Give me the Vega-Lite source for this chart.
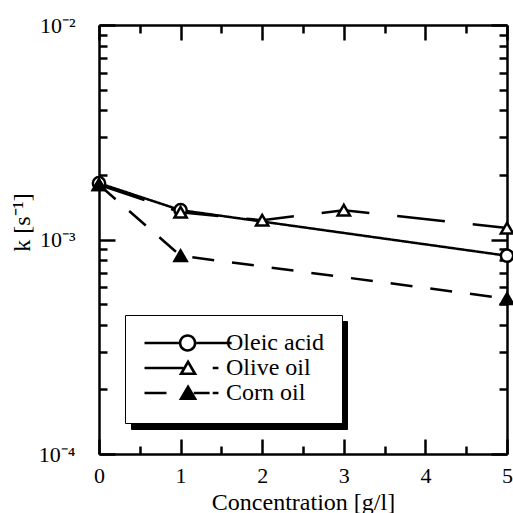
{
  "$schema": "https://vega.github.io/schema/vega-lite/v6.json",
  "width": 408,
  "height": 429,
  "autosize": "none",
  "padding": {"left": 99, "top": 25, "right": 6, "bottom": 59},
  "background": "white",
  "config": {
    "font": "Liberation Serif",
    "view": {"stroke": null},
    "axis": {
      "domainColor": "black", "domainWidth": 2.5, "tickColor": "black", "tickWidth": 2.5,
      "labelFont": "Liberation Serif", "labelFontSize": 22, "labelColor": "black",
      "titleFont": "Liberation Serif", "titleFontSize": 24, "titleFontWeight": "normal", "titleColor": "black",
      "grid": false, "labelFlush": false, "labelOverlap": false
    }
  },
  "data": {"values": [
    {"series": "Oleic acid", "x": 0, "k": 0.00183},
    {"series": "Oleic acid", "x": 1, "k": 0.00137},
    {"series": "Oleic acid", "x": 5, "k": 0.00084},
    {"series": "Olive oil", "x": 0, "k": 0.0018},
    {"series": "Olive oil", "x": 1, "k": 0.00134},
    {"series": "Olive oil", "x": 2, "k": 0.00123},
    {"series": "Olive oil", "x": 3, "k": 0.00137},
    {"series": "Olive oil", "x": 5, "k": 0.00113},
    {"series": "Corn oil", "x": 0, "k": 0.0018},
    {"series": "Corn oil", "x": 1, "k": 0.00084},
    {"series": "Corn oil", "x": 5, "k": 0.00053}
  ]},
  "layer": [
    {
      "mark": {"type": "line", "stroke": "black", "strokeWidth": 2.5},
      "encoding": {
        "x": {"field": "x", "type": "quantitative", "scale": {"domain": [0, 5], "nice": false},
          "axis": {"orient": "bottom", "values": [0, 0.5, 1, 1.5, 2, 2.5, 3, 3.5, 4, 4.5, 5],
            "labelExpr": "datum.value % 1 === 0 ? format(datum.value, 'd') : ''",
            "tickSize": {"condition": {"test": "datum.value % 1 === 0", "value": -15}, "value": -8},
            "labelPadding": 26, "title": "Concentration [g/l]", "titleY": 55, "titleBaseline": "alphabetic"}},
        "y": {"field": "k", "type": "quantitative", "scale": {"type": "log", "domain": [0.0001, 0.01], "nice": false},
          "axis": {"orient": "left",
            "values": [0.0001, 0.0002, 0.0003, 0.0004, 0.0005, 0.0006, 0.0007, 0.0008, 0.0009, 0.001, 0.002, 0.003, 0.004, 0.005, 0.006, 0.007, 0.008, 0.009, 0.01],
            "labelExpr": "datum.value === 0.0001 ? '10⁻⁴' : datum.value === 0.001 ? '10⁻³' : datum.value === 0.01 ? '10⁻²' : ''",
            "tickSize": {"condition": {"test": "datum.value === 0.0001 || datum.value === 0.001 || datum.value === 0.01", "value": -16}, "value": -8},
            "labelPadding": 40, "labelBaseline": "middle",
            "title": "k [s⁻¹]", "titleX": -77, "titleY": 197, "titleAngle": 270, "titleBaseline": "middle", "titleAlign": "center"}},
        "strokeDash": {"field": "series", "type": "nominal",
          "scale": {"domain": ["Corn oil", "Olive oil", "Oleic acid"], "range": [[22, 18], [48, 28], [1, 0]]},
          "legend": null},
        "order": {"field": "x", "type": "quantitative"}
      }
    },
    {
      "mark": {"type": "point", "stroke": "black", "strokeWidth": 2.5, "opacity": 1, "size": 150},
      "encoding": {
        "x": {"field": "x", "type": "quantitative",
          "axis": {"orient": "top", "values": [0, 0.5, 1, 1.5, 2, 2.5, 3, 3.5, 4, 4.5, 5], "labels": false, "title": null,
            "tickSize": {"condition": {"test": "datum.value % 1 === 0", "value": -15}, "value": -8}}},
        "y": {"field": "k", "type": "quantitative",
          "axis": {"orient": "right", "labels": false, "title": null,
            "values": [0.0001, 0.0002, 0.0003, 0.0004, 0.0005, 0.0006, 0.0007, 0.0008, 0.0009, 0.001, 0.002, 0.003, 0.004, 0.005, 0.006, 0.007, 0.008, 0.009, 0.01],
            "tickSize": {"condition": {"test": "datum.value === 0.0001 || datum.value === 0.001 || datum.value === 0.01", "value": -16}, "value": -8}}},
        "shape": {"field": "series", "type": "nominal",
          "scale": {"domain": ["Corn oil", "Olive oil", "Oleic acid"], "range": ["triangle-up", "triangle-up", "circle"]},
          "legend": null},
        "fill": {"field": "series", "type": "nominal",
          "scale": {"domain": ["Corn oil", "Oleic acid", "Olive oil"], "range": ["black", "white", "white"]},
          "legend": null}
      }
    },
    {
      "mark": {"type": "point", "opacity": 0},
      "encoding": {
        "x": {"field": "x", "type": "quantitative", "axis": null},
        "y": {"field": "k", "type": "quantitative", "axis": null},
        "stroke": {"field": "series", "type": "nominal",
          "scale": {"domain": ["Olive oil", "Oleic acid", "Corn oil"], "range": ["black", "black", "black"]},
          "legend": {"title": null, "orient": "none", "legendX": 32, "legendY": 296, "zindex": 1,
            "fillColor": "black", "strokeColor": "black", "padding": 18,
            "clipHeight": 20, "rowPadding": 1, "symbolSize": 7744, "labelOffset": -8,
            "labelFont": "Liberation Serif", "labelFontSize": 24, "labelColor": "black", "labelLimit": 300,
            "encode": {
              "legend": {"strokeWidth": {"value": 2}},
              "symbols": {
              "shape": {"value": "M-1,0H0.93"},
              "stroke": {"value": "black"},
              "strokeWidth": {"value": 2.5}
            }}}}
      }
    },
    {
      "transform": [{"filter": "false"}],
      "mark": {"type": "point", "stroke": "black", "strokeWidth": 2.5, "opacity": 1},
      "encoding": {
        "x": {"field": "x", "type": "quantitative", "axis": null},
        "y": {"field": "k", "type": "quantitative", "axis": null},
        "shape": {"field": "series", "type": "nominal",
          "scale": {"domain": ["Oleic acid", "Olive oil", "Corn oil"],
            "range": ["M-1,-0.03H-0.22V0.03H-1ZM0.18,-0.03H0.98V0.03H0.18ZM0.18,0A0.2,0.2 0 1,1 -0.22,0A0.2,0.2 0 1,1 0.18,0ZM0.12,0A0.14,0.14 0 1,0 -0.16,0A0.14,0.14 0 1,0 0.12,0Z",
                      "M-1,-0.03H-0.12V0.03H-1ZM-0.01,-0.2L0.2,0.16L-0.22,0.16ZM-0.01,-0.08L-0.115,0.1L0.095,0.1ZM0.55,-0.03H0.68V0.03H0.55Z",
                      "M-1,-0.03H-0.5V0.03H-1ZM-0.01,-0.2L0.2,0.16L-0.22,0.16ZM0.12,-0.03H0.48V0.03H0.12ZM0.55,-0.03H0.68V0.03H0.55Z"]},
          "legend": {"title": null, "orient": "none", "legendX": 26, "legendY": 290, "zindex": 2,
            "fillColor": "white", "strokeColor": "black", "padding": 18,
            "clipHeight": 20, "rowPadding": 1, "symbolSize": 7744, "labelOffset": -8,
            "symbolStrokeColor": "black", "symbolStrokeWidth": 2.5,
            "labelFont": "Liberation Serif", "labelFontSize": 24, "labelColor": "black", "labelLimit": 300,
            "encode": {"legend": {"strokeWidth": {"value": 2}},
              "symbols": {"stroke": {"value": "black"}, "strokeWidth": {"value": 2.5}, "opacity": {"value": 1}}}}},
        "fill": {"field": "series", "type": "nominal",
          "scale": {"domain": ["Oleic acid", "Olive oil", "Corn oil"], "range": ["black", "black", "black"]},
          "legend": {"title": null, "orient": "none", "legendX": 26, "legendY": 290, "zindex": 2,
            "fillColor": "white", "strokeColor": "black", "padding": 18,
            "clipHeight": 20, "rowPadding": 1, "symbolSize": 7744, "labelOffset": -8,
            "symbolStrokeColor": "black", "symbolStrokeWidth": 2.5,
            "labelFont": "Liberation Serif", "labelFontSize": 24, "labelColor": "black", "labelLimit": 300,
            "encode": {"legend": {"strokeWidth": {"value": 2}},
              "symbols": {"stroke": {"value": "black"}, "strokeWidth": {"value": 2.5}, "opacity": {"value": 1}}}}}
      }
    }
  ],
  "resolve": {"scale": {"shape": "independent", "fill": "independent"}, "axis": {"x": "independent", "y": "independent"}}
}
